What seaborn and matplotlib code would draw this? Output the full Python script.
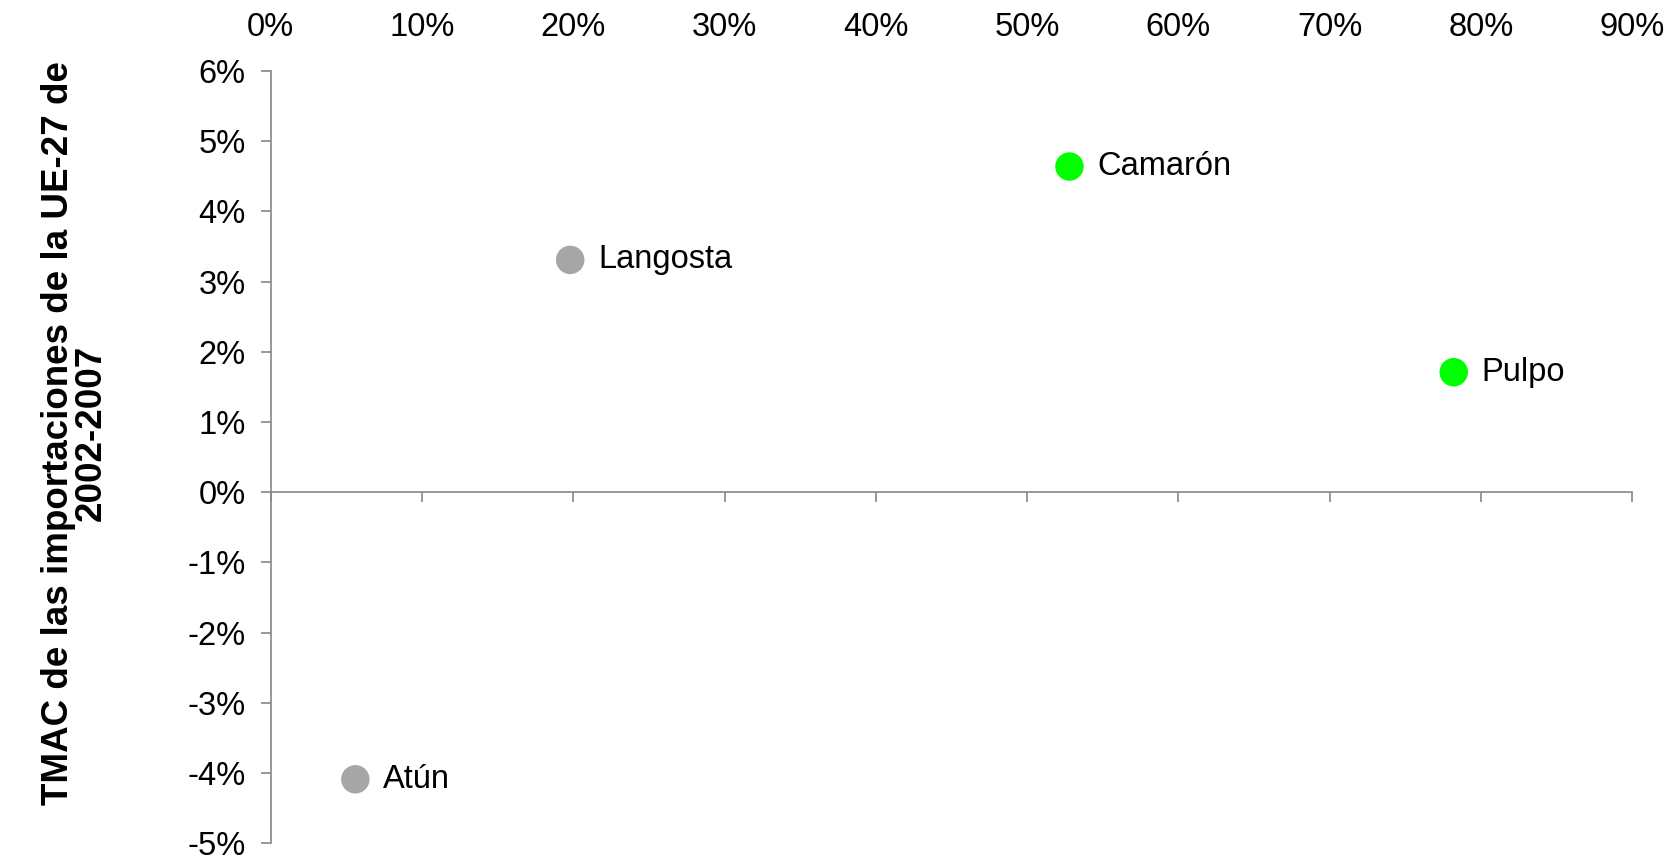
import pandas as pd
import seaborn as sns
import matplotlib.pyplot as plt
from matplotlib.ticker import FuncFormatter, MultipleLocator

# Data
productos = ["Atún", "Langosta", "Camarón", "Pulpo"]
participacion = [0.056, 0.198, 0.528, 0.782]
tmac = [-0.0409, 0.0331, 0.0464, 0.0171]
grupo = ["gris", "gris", "verde", "verde"]

df = pd.DataFrame({"producto": productos, "x": participacion, "y": tmac, "grupo": grupo})

sns.set_style("white")
plt.rcParams['font.family'] = ['Liberation Sans', 'DejaVu Sans']
plt.rcParams['text.color'] = 'black'
plt.rcParams['xtick.labelcolor'] = 'black'
plt.rcParams['ytick.labelcolor'] = 'black'

fig, ax = plt.subplots(figsize=(16.81, 8.56), dpi=100)
fig.subplots_adjust(left=0.161, right=0.971, top=0.917, bottom=0.015)

sns.scatterplot(data=df, x="x", y="y", hue="grupo",
                palette={"gris": "#a6a6a6", "verde": "#00ff00"},
                s=420, edgecolor="none", legend=False, ax=ax)

# labels next to each point
for _, r in df.iterrows():
    ax.annotate(r["producto"], (r["x"], r["y"]), xytext=(20, 0),
                textcoords="offset points", va="center", ha="left",
                fontsize=23.5, color="black")

ax.set_xlim(0, 0.9)
ax.set_ylim(-0.05, 0.06)
ax.xaxis.set_major_locator(MultipleLocator(0.1))
ax.yaxis.set_major_locator(MultipleLocator(0.01))
pct = FuncFormatter(lambda v, p: f"{round(v * 100):d}%".replace("−", "-"))
ax.xaxis.set_major_formatter(pct)
ax.yaxis.set_major_formatter(pct)

# x axis line sits at y=0, labels on top
axis_col = "#868686"
ax.spines["bottom"].set_position(("data", 0))
ax.spines["top"].set_visible(False)
ax.spines["right"].set_visible(False)
for s in ["bottom", "left"]:
    ax.spines[s].set_color(axis_col)
    ax.spines[s].set_linewidth(1.2)

ax.tick_params(axis="x", bottom=True, top=False, labelbottom=False, labeltop=True,
               direction="out", length=7, width=1.2, color=axis_col,
               labelsize=23.5, pad=13)
ax.tick_params(axis="y", left=True, direction="out", length=7, width=1.2,
               color=axis_col, labelsize=23.5, pad=11)

ax.set_xlabel("")
ax.set_ylabel("TMAC de las importaciones de la UE-27 de\n2002-2007",
              fontsize=26.5, fontweight="bold", linespacing=0.92, color="black")
ax.yaxis.set_label_coords(-0.119, 0.531)

fig.savefig("out.png", dpi=100)
